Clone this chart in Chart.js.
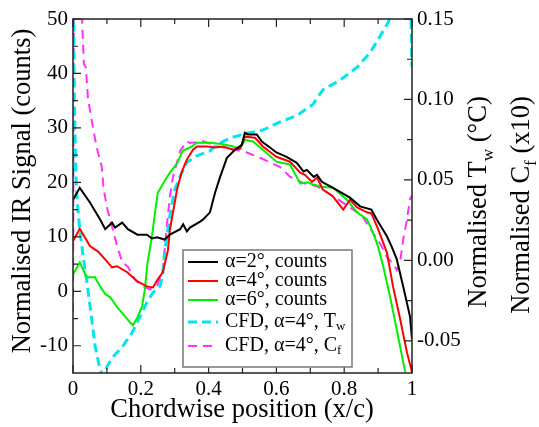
<!DOCTYPE html>
<html><head><meta charset="utf-8">
<script src="https://cdn.jsdelivr.net/npm/chart.js@4"></script>
<style>html,body{margin:0;padding:0;background:#fff}#c{display:block}</style>
</head><body>
<canvas id="c" width="539" height="427"></canvas>
<script>
// ---- data ----
const alpha2X = [0,0.02,0.05,0.08,0.095,0.115,0.124,0.145,0.162,0.19,0.218,0.233,0.248,0.27,0.286,0.316,0.325,0.336,0.345,0.375,0.384,0.404,0.419,0.434,0.454,0.478,0.498,0.507,0.516,0.542,0.557,0.581,0.6,0.63,0.66,0.68,0.69,0.71,0.72,0.734,0.767,0.817,0.847,0.88,0.896,0.926,0.94,0.955,0.974,0.994,1.0];
const alpha2Y = [16.8,19,16.3,13.2,11.4,12.6,11.7,12.6,11.4,10.4,10.4,9.7,9.9,9.5,10.4,11.4,12.3,11.0,11.7,12.8,13.2,14.5,18.1,21,24.5,26,26.9,29.1,28.8,28.8,27.5,26.4,25.5,24.7,23.6,22,22.3,21,21.4,20.1,19,17.2,15.6,15,13.2,10.1,8.2,5.9,0.9,-4.6,-8.8];

const alpha4X = [0,0.02,0.05,0.074,0.1,0.115,0.13,0.16,0.19,0.218,0.236,0.25,0.265,0.28,0.286,0.295,0.307,0.32,0.336,0.354,0.366,0.395,0.419,0.443,0.472,0.493,0.507,0.537,0.56,0.6,0.64,0.67,0.684,0.705,0.72,0.737,0.767,0.797,0.817,0.838,0.867,0.88,0.9,0.926,0.944,0.965,0.985,1.0];
const alpha4Y = [9.2,11.5,8.3,7.3,5.5,4.4,4.6,3.5,1.8,0.9,0.7,2.2,3.5,7.5,11.4,14.5,18.7,21.8,24.2,26,26.6,26.6,26.4,26.6,26,26.2,28.4,28.2,26.6,24.7,23.8,21.8,21.4,20.1,20.9,18.7,17.4,15,16.8,15.4,14.5,14.3,11.4,7.1,0.9,-5.1,-11.2,-14.8];

const alpha6X = [0,0.02,0.04,0.065,0.08,0.095,0.11,0.13,0.148,0.168,0.177,0.19,0.204,0.212,0.22,0.233,0.242,0.25,0.27,0.286,0.307,0.324,0.345,0.366,0.404,0.443,0.472,0.493,0.507,0.531,0.56,0.6,0.64,0.67,0.693,0.708,0.734,0.767,0.808,0.838,0.867,0.885,0.9,0.915,0.935,0.955,0.974,0.98];
const alpha6Y = [3.1,5.3,2.6,2.6,0.9,-0.5,-1.1,-2.9,-4.2,-5.7,-6.2,-4.8,-2.7,0.4,5.3,10.1,14.5,18.1,20.2,21.8,23.5,25.8,26.4,27.3,27.3,27,26.6,26.2,27.8,27.5,26,23.8,23.3,19.8,20,19.6,19.2,19,16.8,14.5,13.2,10.8,8.2,4.6,-0.9,-7,-13,-14.8];

const cfdTwX = [0,0.004,0.008,0.012,0.02,0.03,0.04,0.05,0.065,0.08,0.09,0.1,0.118,0.148,0.174,0.198,0.218,0.236,0.257,0.265,0.27,0.277,0.286,0.3,0.316,0.336,0.366,0.404,0.425,0.463,0.513,0.56,0.611,0.66,0.708,0.737,0.788,0.838,0.876,0.905,0.93,0.95,0.975,0.995,1.0];
const cfdTwY = [0.2,0.1,0.055,0.038,0.019,0.0025,-0.012,-0.028,-0.053,-0.068,-0.072,-0.066,-0.06,-0.053,-0.045,-0.035,-0.026,-0.02,-0.016,-0.008,0.005,0.015,0.028,0.044,0.052,0.061,0.065,0.068,0.072,0.076,0.079,0.081,0.086,0.09,0.097,0.106,0.112,0.12,0.129,0.139,0.148,0.16,0.17,0.17,0.12];

const cfdCfX = [0,0.003,0.025,0.032,0.038,0.044,0.056,0.07,0.085,0.09,0.1,0.115,0.13,0.145,0.162,0.183,0.204,0.227,0.248,0.265,0.277,0.286,0.295,0.316,0.336,0.345,0.384,0.425,0.472,0.513,0.56,0.611,0.64,0.68,0.72,0.767,0.817,0.855,0.885,0.91,0.926,0.944,0.955,0.965,0.974,0.985,0.994,1.0];
const cfdCfY = [-0.032,0.2,0.16,0.122,0.12,0.101,0.086,0.07,0.058,0.045,0.033,0.021,0.009,-0.001,-0.004,-0.012,-0.016,-0.018,-0.016,-0.006,0.022,0.04,0.052,0.068,0.074,0.073,0.074,0.071,0.069,0.067,0.063,0.058,0.052,0.048,0.046,0.04,0.033,0.027,0.017,0.009,0.002,-0.002,-0.006,-0.001,0.013,0.025,0.038,0.04];

const xTicks = [0,0.2,0.4,0.6,0.8,1];
const xMinor = [0.1,0.3,0.5,0.7,0.9];
const leftTicks = [-10,0,10,20,30,40,50];
const leftMinor = [-5,5,15,25,35,45];
const rightTicks = [-0.05,0,0.05,0.1,0.15];
const rightMinor = [-0.025,0.025,0.075,0.125];

const legendLabels = [
  [{t:'\u03B1=2\u00B0, counts'}],
  [{t:'\u03B1=4\u00B0, counts'}],
  [{t:'\u03B1=6\u00B0, counts'}],
  [{t:'CFD, \u03B1=4\u00B0, T'},{t:'w',sub:true}],
  [{t:'CFD, \u03B1=4\u00B0, C'},{t:'f',sub:true}]
];

// ---- build ----
const zip = (xs, ys) => xs.map((x,i)=>({x:x, y:ys[i]}));
const SERIF = "'Liberation Serif','DejaVu Serif',serif";

function mk(label, xs, ys, color, axis, dash, width){
  return {label, data: zip(xs,ys), borderColor: color, backgroundColor: color,
    yAxisID: axis, borderDash: dash, borderWidth: width, pointRadius: 0,
    tension: 0, fill: false, clip: 0};
}
const datasets = [
  mk('a2', alpha2X, alpha2Y, '#000000', 'y', [], 2),
  mk('a4', alpha4X, alpha4Y, '#ff0000', 'y', [], 2),
  mk('a6', alpha6X, alpha6Y, '#00ee00', 'y', [], 2),
  mk('tw', cfdTwX, cfdTwY, '#00e5ee', 'y2', [9,5], 3),
  mk('cf', cfdCfX, cfdCfY, '#ff33ff', 'y2', [9,6], 2)
];
const styles = datasets.map(d=>({c:d.borderColor, dash:d.borderDash, w:d.borderWidth}));

function richWidth(ctx, parts, size){
  let w=0;
  for(const p of parts){ ctx.font = (p.sub? size*0.65 : size)+'px '+SERIF; w += ctx.measureText(p.t).width; }
  return w;
}
function drawRich(ctx, parts, x, y, size){
  let cx = x;
  for(const p of parts){
    const s = p.sub? size*0.65 : size;
    ctx.font = s+'px '+SERIF;
    ctx.fillText(p.t, cx, p.sub? y + size*0.25 : y);
    cx += ctx.measureText(p.t).width;
  }
}

const deco = {
  id:'deco',
  afterDraw(chart){
    const ctx = chart.ctx, a = chart.chartArea;
    const sx = chart.scales.x, sy = chart.scales.y, s2 = chart.scales.y2;
    ctx.save();
    ctx.strokeStyle = '#222'; ctx.lineWidth = 1.5;
    ctx.strokeRect(a.left, a.top, a.right-a.left, a.bottom-a.top);
    ctx.lineWidth = 1.2;
    ctx.beginPath();
    const tk = (list, len, fnH) => list.forEach(v=>fnH(v,len));
    const xt = (v,len)=>{ const p = sx.getPixelForValue(v);
      ctx.moveTo(p, a.bottom); ctx.lineTo(p, a.bottom-len);
      ctx.moveTo(p, a.top); ctx.lineTo(p, a.top+len); };
    const lt = (v,len)=>{ const p = sy.getPixelForValue(v);
      ctx.moveTo(a.left, p); ctx.lineTo(a.left+len, p); };
    const rt = (v,len)=>{ const p = s2.getPixelForValue(v);
      ctx.moveTo(a.right, p); ctx.lineTo(a.right-len, p); };
    tk(xTicks,8,xt); tk(xMinor,5,xt);
    tk(leftTicks,8,lt); tk(leftMinor,5,lt);
    tk(rightTicks,8,rt); tk(rightMinor,5,rt);
    ctx.stroke();

    // axis titles
    ctx.fillStyle = '#000';
    ctx.textBaseline = 'alphabetic';
    const tsize = 26.5;
    let parts = [{t:'Chordwise position (x/c)'}];
    let w = richWidth(ctx, parts, tsize);
    drawRich(ctx, parts, 242 - w/2, 417, tsize);

    const vert = (parts, bx, cy) => {
      ctx.save(); ctx.translate(bx, cy); ctx.rotate(-Math.PI/2);
      const ww = richWidth(ctx, parts, tsize);
      drawRich(ctx, parts, -ww/2, 0, tsize);
      ctx.restore();
    };
    vert([{t:'Normalised IR Signal (counts)'}], 30, 191);
    vert([{t:'Normalised T'},{t:'w',sub:true},{t:' (\u00B0C)'}], 486, 202);
    vert([{t:'Normalised C'},{t:'f',sub:true},{t:' (x10)'}], 529, 205);

    // legend
    const L = {x:183, y:250, w:169, h:117};
    ctx.fillStyle = '#fff';
    ctx.fillRect(L.x, L.y, L.w, L.h);
    ctx.strokeStyle = '#777'; ctx.lineWidth = 1.5;
    ctx.strokeRect(L.x, L.y, L.w, L.h);
    const rows = [262, 281, 300, 322, 346];
    styles.forEach((s,i)=>{
      ctx.beginPath();
      ctx.strokeStyle = s.c; ctx.lineWidth = s.w; ctx.setLineDash(s.dash);
      ctx.moveTo(188, rows[i]); ctx.lineTo(218, rows[i]); ctx.stroke();
      ctx.setLineDash([]);
      ctx.fillStyle = '#000'; ctx.textBaseline = 'middle';
      drawRich(ctx, legendLabels[i], 225, rows[i], 20);
    });
    ctx.restore();
  }
};

const tickFont = {family: SERIF, size: 21};
new Chart(document.getElementById('c'), {
  type: 'line',
  data: { datasets },
  options: {
    responsive: false, animation: false, devicePixelRatio: 1,
    layout: { padding: {top: 19, left: 0, right: 0, bottom: 0} },
    plugins: { legend: {display:false}, tooltip: {enabled:false} },
    scales: {
      x: { type:'linear', min:0, max:1, position:'bottom',
        grid:{display:false, drawTicks:false}, border:{display:false},
        afterBuildTicks(s){ s.ticks = xTicks.map(v=>({value:v})); },
        afterFit(s){ s.height = 54; },
        ticks:{ font: tickFont, color:'#000', padding: 4, maxRotation:0, autoSkip:false,
          callback:(v)=> (v===0||v===1)? String(v) : v.toFixed(1) } },
      y: { type:'linear', min:-15, max:50, position:'left',
        grid:{display:false, drawTicks:false}, border:{display:false},
        afterBuildTicks(s){ s.ticks = leftTicks.map(v=>({value:v})); },
        afterFit(s){ s.width = 73; },
        ticks:{ font: tickFont, color:'#000', padding: 5, autoSkip:false,
          callback:(v)=> String(v) } },
      y2: { type:'linear', min:-0.07, max:0.15, position:'right',
        grid:{display:false, drawTicks:false}, border:{display:false},
        afterBuildTicks(s){ s.ticks = rightTicks.map(v=>({value:v})); },
        afterFit(s){ s.width = 127; },
        ticks:{ font: tickFont, color:'#000', padding: 5, autoSkip:false,
          callback:(v)=> v.toFixed(2) } }
    }
  },
  plugins: [deco]
});
</script>
</body></html>
